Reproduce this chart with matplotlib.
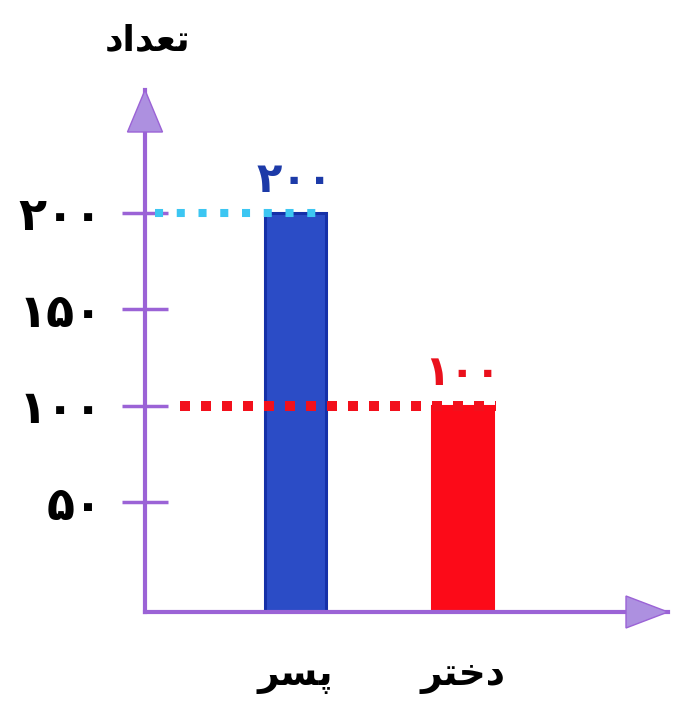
import matplotlib
matplotlib.use("Agg")
import matplotlib.pyplot as plt
from matplotlib.patches import Polygon

plt.rcParams['font.family'] = ['DejaVu Sans']

# ---- data ----
categories = ['پسر', 'دختر']
values = [200, 100]
y_ticks = [50, 100, 150, 200]
y_title = 'تعداد'

bar_colors = ['#2b4cc6', '#fc0a18']
bar_edges = ['#1530a8', '#fc0a18']
guide_colors = ['#3cc6f2', '#f2101c']
value_colors = ['#1c3aa8', '#ea101c']
axis_color = '#9b63d6'
arrow_fill = '#ad90e0'

# ---- simple Arabic-script shaping (presentation forms, visual order) ----
FORMS = {  # isolated, final, initial, medial
    'ا': ('\uFE8D', '\uFE8E', None, None),
    'د': ('\uFEA9', '\uFEAA', None, None),
    'ر': ('\uFEAD', '\uFEAE', None, None),
    'ت': ('\uFE95', '\uFE96', '\uFE97', '\uFE98'),
    'ع': ('\uFEC9', '\uFECA', '\uFECB', '\uFECC'),
    'س': ('\uFEB1', '\uFEB2', '\uFEB3', '\uFEB4'),
    'خ': ('\uFEA5', '\uFEA6', '\uFEA7', '\uFEA8'),
    'پ': ('\uFB56', '\uFB57', '\uFB58', '\uFB59'),
}


def dual(c):
    return c in FORMS and FORMS[c][2] is not None


def shape(word):
    out = []
    for i, c in enumerate(word):
        if c not in FORMS:
            out.append(c)
            continue
        jp = i > 0 and dual(word[i - 1])
        jn = i < len(word) - 1 and dual(c) and word[i + 1] in FORMS
        iso, fin, ini, med = FORMS[c]
        if jp and jn:
            g = med
        elif jp:
            g = fin
        elif jn:
            g = ini
        else:
            g = iso
        out.append(g)
    return ''.join(reversed(out))


FA_DIGITS = str.maketrans('0123456789', '۰۱۲۳۴۵۶۷۸۹')


def fa(n):
    return str(n).translate(FA_DIGITS)


# ---- figure ----
W, H = 675, 707
fig = plt.figure(figsize=(W / 100, H / 100), dpi=100)
ax = fig.add_axes([145 / W, 95 / H, 523 / W, 522 / H])

y_floor = -7
ax.set_ylim(y_floor, 263.5)
ax.set_xlim(-0.896, 2.227)

xs = list(range(len(categories)))
bar_w = 0.364
ax.bar(xs, [v - y_floor for v in values], bottom=y_floor, width=bar_w,
       color=bar_colors, edgecolor=bar_edges, linewidth=2.2, zorder=2)

# dotted guide lines
guide_starts = [-0.836, -0.687]
guide_lw = [5.8, 7.2]
guide_dash = [(0, (1.0, 1.7)), (0, (1.0, 1.1))]
for x, v, c, xs0, lw, ds in zip(xs, values, guide_colors, guide_starts, guide_lw, guide_dash):
    ax.plot([xs0, x + bar_w / 2 + 0.02], [v, v], color=c, lw=lw, linestyle=ds,
            solid_capstyle='butt', dash_capstyle='butt', zorder=3)

# value labels
for x, v, c in zip(xs, values, value_colors):
    ax.annotate(fa(v), (x, v), xytext=(0, 8), textcoords='offset points',
                ha='center', va='bottom', fontsize=30, fontweight='bold',
                color=c, zorder=4)

# axes styling
for s in ['top', 'right']:
    ax.spines[s].set_visible(False)
for s in ['left', 'bottom']:
    ax.spines[s].set_color(axis_color)
    ax.spines[s].set_linewidth(3)

ax.set_yticks(y_ticks, [fa(t) for t in y_ticks])
ax.tick_params(axis='y', direction='inout', length=33, width=2.5,
               color=axis_color, labelcolor='black', labelsize=33, pad=14)
for lab in ax.get_yticklabels():
    lab.set_fontweight('bold')

ax.set_xticks(xs, [shape(c) for c in categories])
ax.tick_params(axis='x', length=0, pad=33, labelsize=27, labelcolor='black')
for lab in ax.get_xticklabels():
    lab.set_fontweight('bold')

# arrow heads
aw, ah = 523, 522
ax.add_patch(Polygon([(0, 1), (-17.5 / aw, 1 - 42 / ah), (17.5 / aw, 1 - 42 / ah)],
                     closed=True, transform=ax.transAxes, clip_on=False,
                     facecolor=arrow_fill, edgecolor=axis_color, lw=1, zorder=5))
ax.add_patch(Polygon([(1, 0), (1 - 42 / aw, 16 / ah), (1 - 42 / aw, -16 / ah)],
                     closed=True, transform=ax.transAxes, clip_on=False,
                     facecolor=arrow_fill, edgecolor=axis_color, lw=1, zorder=5))

fig.text(148 / W, 1 - 40 / H, shape(y_title), ha='center', va='center',
         fontsize=26, fontweight='bold')

fig.savefig('out.png', dpi=100)
